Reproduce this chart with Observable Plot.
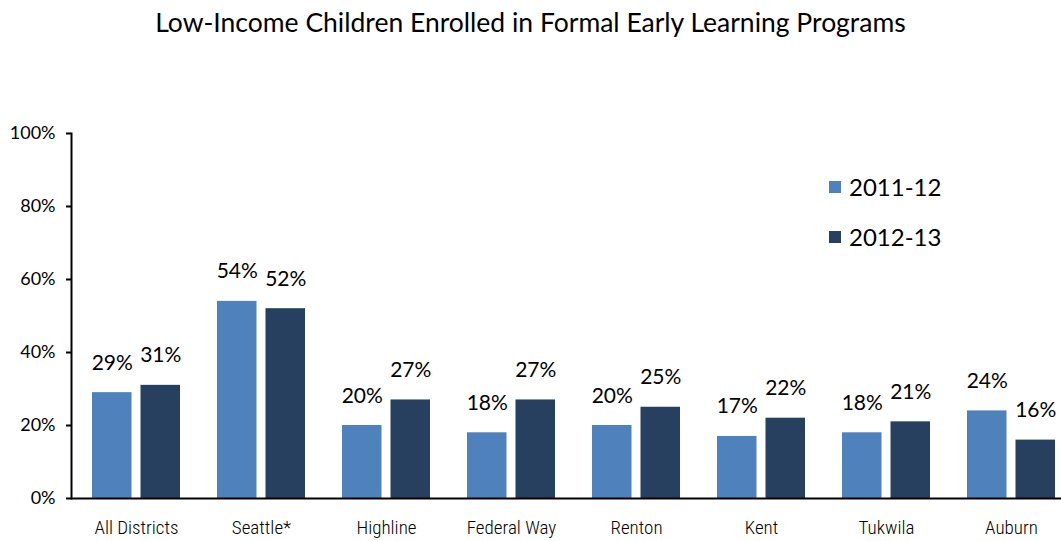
<!DOCTYPE html>
<html>
<head>
<meta charset="utf-8">
<script src="https://cdn.jsdelivr.net/npm/d3@7"></script>
<script src="https://cdn.jsdelivr.net/npm/@observablehq/plot@0.6"></script>
<style>
  html, body { margin: 0; padding: 0; background: #fff; overflow: hidden; }
  #wrap { position: relative; width: 1061px; height: 541px; font-family: Lato, "Open Sans", sans-serif; }
  #title { height: 50px; line-height: 44px; text-align: center; font-size: 26.5px; color: #000; white-space: nowrap; }
  .leg { position: absolute; left: 829px; font-size: 24px; color: #000; display: flex; align-items: center; }
  .leg span.sw { display: inline-block; width: 12px; height: 12px; margin-right: 8px; }
  svg { display: block; }
  .xlab text { font-weight: 300; }
</style>
</head>
<body>
<div id="wrap">
  <div id="title">Low-Income Children Enrolled in Formal Early Learning Programs</div>
  <div id="chart"></div>
</div>
<script>
const categories = ["All Districts", "Seattle*", "Highline", "Federal Way", "Renton", "Kent", "Tukwila", "Auburn"];
const series = ["2011-12", "2012-13"];
const values2011 = [0.29, 0.54, 0.20, 0.18, 0.20, 0.17, 0.18, 0.24];
const values2012 = [0.31, 0.52, 0.27, 0.27, 0.25, 0.22, 0.21, 0.16];
const colors = ["#4F81BD", "#27405F"];
const yTicks = [0, 0.2, 0.4, 0.6, 0.8, 1.0];

const data = [];
categories.forEach((c, i) => {
  data.push({category: c, series: series[0], value: values2011[i]});
  data.push({category: c, series: series[1], value: values2012[i]});
});
const s1 = data.filter(d => d.series === series[0]);
const s2 = data.filter(d => d.series === series[1]);

const fmt = d => Math.round(d.value * 100) + "%";

const chart = Plot.plot({
  width: 1061,
  height: 491,
  marginTop: 83,
  marginBottom: 43,
  marginLeft: 71,
  marginRight: 0,
  style: {fontFamily: "Lato, 'Open Sans', sans-serif", color: "#000", background: "#fff"},
  x: {type: "band", domain: categories, range: [73, 1073], paddingInner: 0.3, paddingOuter: 0.15, label: null},
  y: {domain: [0, 1], label: null},
  color: {domain: series, range: colors},
  marks: [
    Plot.barY(s1, {x: "category", y: "value", fill: "series", insetRight: 48.5}),
    Plot.barY(s2, {x: "category", y: "value", fill: "series", insetLeft: 48.5}),
    Plot.text(s1, {x: "category", y: "value", text: fmt, dx: -24.25, dy: -23, lineAnchor: "bottom", fontSize: 21}),
    Plot.text(s2, {x: "category", y: "value", text: fmt, dx: 24.25, dy: -23, lineAnchor: "bottom", fontSize: 21}),
    Plot.axisY({ticks: yTicks, tickFormat: d => Math.round(d * 100) + "%", tickSize: 5, tickPadding: 11, fontSize: 18, label: null, strokeWidth: 2}),
    Plot.axisX({tickSize: 0, tickPadding: 22, fontSize: 19, label: null, className: "xlab", fontFamily: "'Roboto Condensed', 'Liberation Sans Narrow', Lato, sans-serif"}),
    Plot.frame({anchor: "left", stroke: "#000", strokeWidth: 2}),
    Plot.ruleY([0], {stroke: "#000", strokeWidth: 2})
  ]
});
document.getElementById("chart").appendChild(chart);

const wrap = document.getElementById("wrap");
const legendTops = [172, 222];
series.forEach((s, i) => {
  const el = document.createElement("div");
  el.className = "leg";
  el.style.top = legendTops[i] + "px";
  const sw = document.createElement("span");
  sw.className = "sw";
  sw.style.background = colors[i];
  el.appendChild(sw);
  el.appendChild(document.createTextNode(s));
  wrap.appendChild(el);
});
</script>
</body>
</html>
